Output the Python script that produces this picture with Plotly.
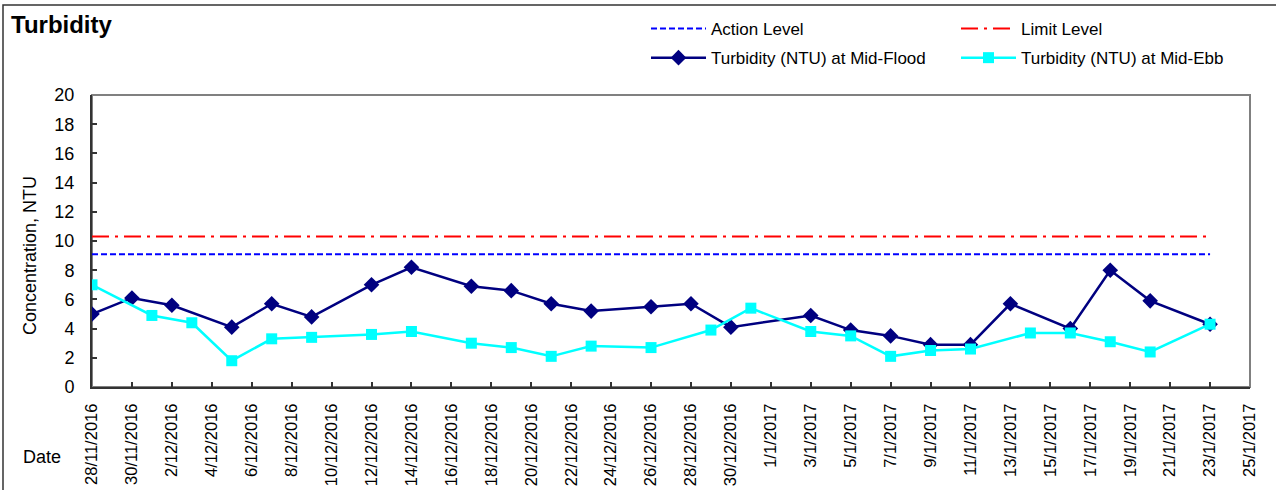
import plotly.graph_objects as go

# ---- data -------------------------------------------------------------
flood_dates = ["2016-11-28", "2016-11-30", "2016-12-02", "2016-12-05", "2016-12-07",
               "2016-12-09", "2016-12-12", "2016-12-14", "2016-12-17", "2016-12-19",
               "2016-12-21", "2016-12-23", "2016-12-26", "2016-12-28", "2016-12-30",
               "2017-01-03", "2017-01-05", "2017-01-07", "2017-01-09", "2017-01-11",
               "2017-01-13", "2017-01-16", "2017-01-18", "2017-01-20", "2017-01-23"]
flood_ntu = [5.0, 6.1, 5.6, 4.1, 5.7, 4.8, 7.0, 8.2, 6.9, 6.6,
             5.7, 5.2, 5.5, 5.7, 4.1, 4.9, 3.9, 3.5, 2.9, 2.9,
             5.7, 4.0, 8.0, 5.9, 4.3]

ebb_dates = ["2016-11-28", "2016-12-01", "2016-12-03", "2016-12-05", "2016-12-07",
             "2016-12-09", "2016-12-12", "2016-12-14", "2016-12-17", "2016-12-19",
             "2016-12-21", "2016-12-23", "2016-12-26", "2016-12-29", "2016-12-31",
             "2017-01-03", "2017-01-05", "2017-01-07", "2017-01-09", "2017-01-11",
             "2017-01-14", "2017-01-16", "2017-01-18", "2017-01-20", "2017-01-23"]
ebb_ntu = [7.0, 4.9, 4.4, 1.8, 3.3, 3.4, 3.6, 3.8, 3.0, 2.7,
           2.1, 2.8, 2.7, 3.9, 5.4, 3.8, 3.5, 2.1, 2.5, 2.6,
           3.7, 3.7, 3.1, 2.4, 4.3]

level_dates = ["2016-11-28", "2017-01-23"]
action_level = [9.1, 9.1]
limit_level = [10.3, 10.3]

x_range = ["2016-11-28", "2017-01-25"]
y_range = [0, 20]

# ---- layout geometry (pixels) ----------------------------------------
W, H = 1276, 490
ML, MR, MT, MB = 92, 26, 95, 103
PW, PH = W - ML - MR, H - MT - MB


def px_x(px):
    return (px - ML) / PW


def px_y(py):
    return (H - MB - py) / PH


FONT = "Liberation Sans, Arial, sans-serif"

fig = go.Figure()

fig.add_trace(go.Scatter(
    x=level_dates, y=action_level, name="Action Level", mode="lines",
    line=dict(color="#0000FF", width=2, dash="6px,3px"),
    legend="legend", legendgroup="a", hoverinfo="skip"))
fig.add_trace(go.Scatter(
    x=level_dates, y=limit_level, name="Limit Level", mode="lines",
    line=dict(color="#FF0000", width=2, dash="17px,6px,3px,6px"),
    legend="legend2", legendgroup="b", hoverinfo="skip"))
fig.add_trace(go.Scatter(
    x=flood_dates, y=flood_ntu, name="Turbidity (NTU) at Mid-Flood", mode="lines+markers",
    line=dict(color="#000080", width=2.5),
    marker=dict(symbol="diamond", size=12, color="#000080"),
    legend="legend", legendgroup="c"))
fig.add_trace(go.Scatter(
    x=ebb_dates, y=ebb_ntu, name="Turbidity (NTU) at Mid-Ebb", mode="lines+markers",
    line=dict(color="#00FFFF", width=2.5),
    marker=dict(symbol="square", size=11, color="#00FFFF"),
    legend="legend2", legendgroup="d"))

legend_common = dict(
    xref="container", yref="container", xanchor="left", yanchor="top",
    orientation="v", traceorder="grouped", tracegroupgap=4,
    itemwidth=55, font=dict(family=FONT, size=17, color="black"),
    bgcolor="rgba(0,0,0,0)", borderwidth=0,
)

fig.update_layout(
    width=W, height=H,
    margin=dict(l=ML, r=MR, t=MT, b=MB, pad=0, autoexpand=False),
    paper_bgcolor="white", plot_bgcolor="white",
    font=dict(family=FONT, size=16, color="black"),
    showlegend=True,
    legend=dict(x=646 / W, y=1 - 11 / H, **legend_common),
    legend2=dict(x=956 / W, y=1 - 11 / H, **legend_common),
    title=dict(text="<b>Turbidity</b>", xref="container", yref="container",
               x=11 / W, y=1 - 25 / H, xanchor="left", yanchor="middle",
               font=dict(family=FONT, size=24, color="black")),
    xaxis=dict(
        type="date", range=x_range, dtick=2 * 86400000, tick0="2016-11-28",
        tickformat="%-d/%-m/%Y", tickangle=-90,
        ticks="inside", ticklen=5, tickwidth=1.5, tickcolor="#333333",
        showline=True, linecolor="#333333", linewidth=2,
        showgrid=False, zeroline=False, ticklabelstandoff=8,
        tickfont=dict(family=FONT, size=16.5, color="black"),
    ),
    yaxis=dict(
        range=y_range, dtick=2, tick0=0,
        ticks="inside", ticklen=5, tickwidth=1.5, tickcolor="#333333",
        showline=True, linecolor="#333333", linewidth=2,
        showgrid=False, zeroline=False, ticklabelstandoff=12,
        tickfont=dict(family=FONT, size=18, color="black"),
    ),
    shapes=[
        # plot-area frame
        dict(type="rect", xref="paper", yref="paper", x0=0, x1=1, y0=0, y1=1,
             line=dict(color="#808080", width=2), layer="below"),
        # outer chart border
        dict(type="rect", xref="paper", yref="paper",
             x0=px_x(3), x1=px_x(W + 5), y0=px_y(H + 5), y1=px_y(5),
             line=dict(color="#333333", width=1.5), layer="below"),
    ],
    annotations=[
        dict(text="Concentration, NTU", xref="paper", yref="paper",
             x=px_x(30), y=px_y(256), textangle=-90, showarrow=False,
             xanchor="center", yanchor="middle",
             font=dict(family=FONT, size=18, color="black")),
        dict(text="Date", xref="paper", yref="paper",
             x=px_x(42), y=px_y(457), showarrow=False,
             xanchor="center", yanchor="middle",
             font=dict(family=FONT, size=18, color="black")),
    ],
)

fig.write_html("out.html")
